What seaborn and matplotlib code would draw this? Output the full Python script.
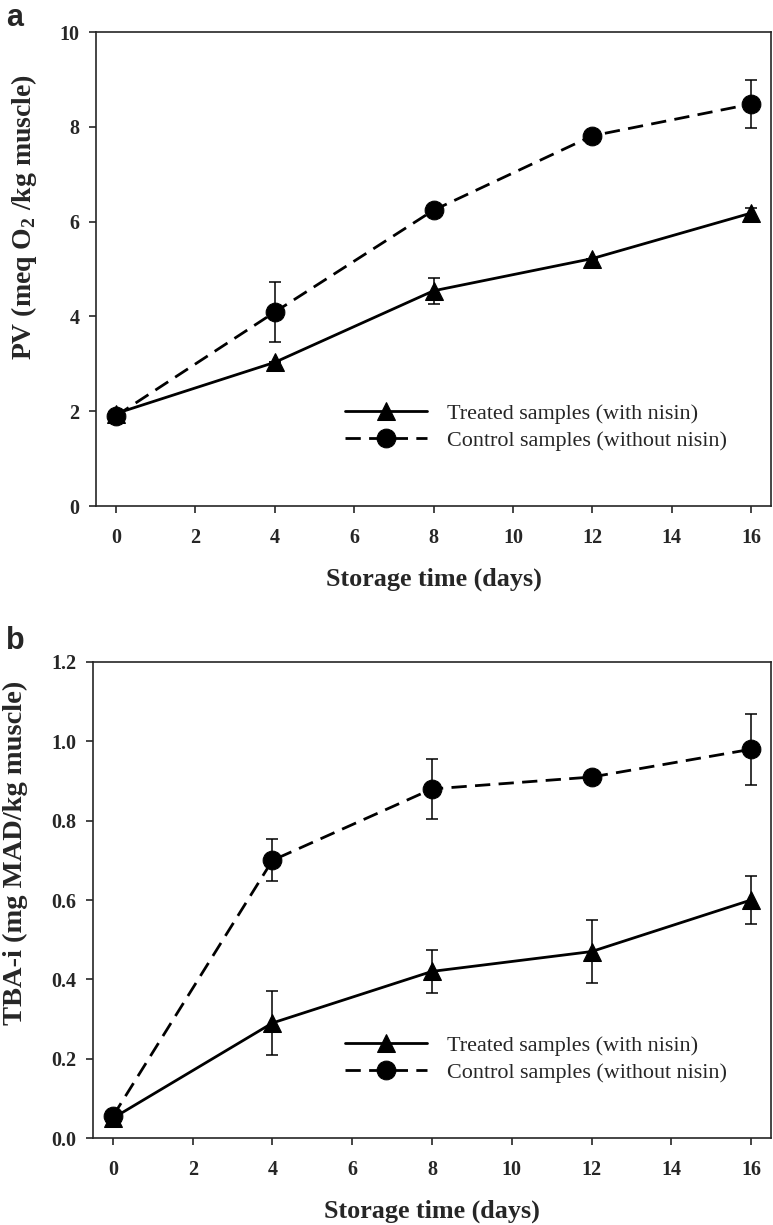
import numpy as np
import pandas as pd
import seaborn as sns
import matplotlib.pyplot as plt

# storage days and group names
days = [0, 4, 8, 12, 16]
groups = ["Treated samples (with nisin)", "Control samples (without nisin)"]

# panel a: peroxide value
pv_treated = [1.95, 3.03, 4.54, 5.22, 6.18]
pv_treated_err = [0, 0, 0.27, 0, 0.1]
pv_control = [1.9, 4.09, 6.24, 7.81, 8.48]
pv_control_err = [0, 0.63, 0, 0, 0.5]

# panel b: TBA index
tba_treated = [0.05, 0.29, 0.42, 0.47, 0.60]
tba_treated_err = [0, 0.08, 0.054, 0.08, 0.061]
tba_control = [0.055, 0.70, 0.88, 0.91, 0.98]
tba_control_err = [0, 0.053, 0.075, 0.012, 0.09]

sns.set_style("ticks")
plt.rcParams["font.family"] = ["Liberation Serif", "DejaVu Serif"]
plt.rcParams["mathtext.fontset"] = "custom"
plt.rcParams["mathtext.rm"] = "Liberation Serif"
plt.rcParams["mathtext.bf"] = "Liberation Serif:bold"

W, H = 773, 1225
fig = plt.figure(figsize=(W / 100, H / 100), dpi=100)


def draw_panel(ax, treated, treated_err, control, control_err):
    df = pd.DataFrame({
        "day": days * 2,
        "value": treated + control,
        "group": [groups[0]] * len(days) + [groups[1]] * len(days),
    })
    sns.lineplot(data=df, x="day", y="value", style="group", style_order=groups,
                 markers={groups[0]: "^", groups[1]: "o"},
                 dashes={groups[0]: "", groups[1]: (5.5, 3)},
                 color="black", lw=2, markersize=13.5, markeredgecolor="black",
                 legend=False, ax=ax)
    lines = list(ax.get_lines())
    for vals, errs in [(treated, treated_err), (control, control_err)]:
        ax.errorbar(days, vals, yerr=errs, fmt="none", ecolor="black",
                    elinewidth=1.1, capsize=4.5, capthick=1.1, zorder=1)
    h_tr = [l for l in lines if l.get_marker() == "^"][0]
    h_ct = [l for l in lines if l.get_marker() == "o"][0]
    return h_tr, h_ct


def style_axes(ax):
    ax.set_xlim(-0.5, 16.5)
    ax.set_xticks(range(0, 17, 2))
    for s in ax.spines.values():
        s.set_visible(True)
        s.set_linewidth(1.2)
    ax.tick_params(axis="both", direction="out", length=5, width=1.2,
                   labelsize=14.5, top=False, right=False)
    ax.tick_params(axis="x", pad=11)
    ax.tick_params(axis="y", pad=7)
    for t in ax.get_xticklabels() + ax.get_yticklabels():
        t.set_fontweight("bold")


def add_legend(ax, handles, x):
    ax.legend(handles, groups, loc="center left", bbox_to_anchor=(x, 0.166),
              frameon=False, fontsize=15.9, handlelength=3.7, handletextpad=0.9,
              labelspacing=0.3, borderpad=0, borderaxespad=0)


# panel a
ax1 = fig.add_axes([96 / W, 1 - 506 / H, 675 / W, 474 / H])
h1, h2 = draw_panel(ax1, pv_treated, pv_treated_err, pv_control, pv_control_err)
ax1.set_ylim(0, 10)
ax1.set_yticks(range(0, 11, 2))
style_axes(ax1)
ax1.set_xlabel("Storage time (days)", fontsize=18.8, fontweight="bold")
ax1.set_ylabel("PV (meq O$_\\mathbf{2}$ /kg muscle)", fontsize=20, fontweight="bold")
ax1.xaxis.set_label_coords(0.5, -0.13)
ax1.yaxis.set_label_coords(-0.084, 0.61)
add_legend(ax1, [h1, h2], 0.369)

# panel b
ax2 = fig.add_axes([93 / W, 1 - 1138 / H, 678 / W, 476 / H])
h1, h2 = draw_panel(ax2, tba_treated, tba_treated_err, tba_control, tba_control_err)
ax2.set_ylim(0, 1.2)
ax2.set_yticks(np.arange(0, 1.21, 0.2))
ax2.set_yticklabels([f"{v:.1f}" for v in np.arange(0, 1.21, 0.2)])
style_axes(ax2)
ax2.set_xlabel("Storage time (days)", fontsize=18.8, fontweight="bold")
ax2.set_ylabel("TBA-i (mg MAD/kg muscle)", fontsize=20.5, fontweight="bold")
ax2.xaxis.set_label_coords(0.5, -0.13)
ax2.yaxis.set_label_coords(-0.096, 0.6)
add_legend(ax2, [h1, h2], 0.372)

fig.text(15 / W, 1 - 18 / H, "a", fontsize=22, fontweight="bold",
         family="Liberation Sans", ha="center", va="center")
fig.text(15 / W, 1 - 641 / H, "b", fontsize=22, fontweight="bold",
         family="Liberation Sans", ha="center", va="center")

fig.savefig("out.png", dpi=100)
